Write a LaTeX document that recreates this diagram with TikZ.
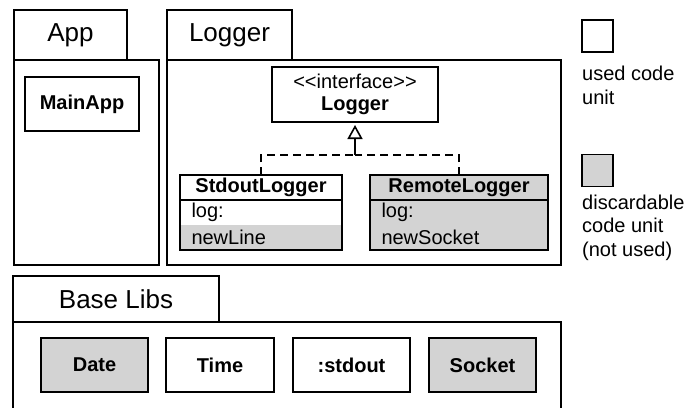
\documentclass[tikz,border=0pt]{standalone}
\usepackage{fontspec}
\setmainfont{Liberation Sans}
\usetikzlibrary{arrows.meta}
\definecolor{unused}{RGB}{211,211,211}
\begin{document}
\begin{tikzpicture}[x=1pt,y=-1pt,
  frame/.style={draw=black, line width=1.6pt},
  tablabel/.style={font=\fontsize{26}{30}\selectfont, inner sep=0pt},
  unitbox/.style={frame, fill=white, outer sep=0pt, inner sep=0pt,
    font=\bfseries\fontsize{20}{24}\selectfont},
  unusedbox/.style={unitbox, fill=unused},
  rowbox/.style={outer sep=0pt, inner sep=0pt, inner xsep=11.5pt,
    minimum height=25pt, text width=#1-23pt, align=left,
    font=\fontsize{20}{24}\selectfont},
  legendtext/.style={inner sep=0pt, align=left, anchor=north west,
    font=\fontsize{20}{24}\selectfont},
  realize/.style={line width=1.6pt, dash pattern=on 8pt off 5pt}
]
\useasboundingbox (0,0) rectangle (687,407);

% ---------- App package ----------
\draw[frame] (14,60) rectangle (127,10);
\draw[frame] (14,60) rectangle (159,265);
\node[tablabel] (apptab) at (70.5,35) {App};
\node[unitbox, minimum width=114pt, minimum height=54pt] (mainapp) at (82,104) {MainApp};

% ---------- Logger package ----------
\draw[frame] (167,60) rectangle (292,10);
\draw[frame] (167,60) rectangle (561,265);
\node[tablabel] (loggertab) at (229.5,35) {Logger};
\node[unitbox, minimum width=166pt, minimum height=55pt, align=center] (iface) at (355,94.5)
  {{\mdseries <\kern0pt<interface>\kern0pt>}\\[-2pt]Logger};

% StdoutLogger
\node[unitbox, minimum width=162pt, minimum height=25pt] (stdout) at (261,187.5) {StdoutLogger};
\node[rowbox=162pt, fill=white, anchor=north] (stdoutlog) at (stdout.south) {log:};
\node[rowbox=162pt, fill=unused, anchor=north] (stdoutnew) at (stdoutlog.south) {newLine};
\draw[frame] (stdout.north west) rectangle (stdoutnew.south east);
\draw[frame] (stdout.south west) -- (stdout.south east);

% RemoteLogger
\node[unusedbox, minimum width=178pt, minimum height=25pt] (remote) at (459,187.5) {RemoteLogger};
\node[rowbox=178pt, fill=unused, anchor=north] (remotelog) at (remote.south) {log:};
\node[rowbox=178pt, fill=unused, anchor=north] (remotenew) at (remotelog.south) {newSocket};
\draw[frame] (remote.north west) rectangle (remotenew.south east);
\draw[frame] (remote.south west) -- (remote.south east);

% realization arrows
\coordinate (join) at (355,155);
\draw[realize] (stdout.north) |- (join);
\draw[realize] (remote.north) |- (join);
\draw[line width=1.6pt, -{Triangle[open, width=15pt, length=14pt]}, shorten >=3pt]
  (join) -- (iface.south);

% ---------- Base Libs package ----------
\draw[frame] (13,322) rectangle (219,276);
\draw[frame] (13,410) -- (13,322) -- (561,322) -- (561,410);
\node[tablabel] (basetab) at (116,299) {Base Libs};
\node[unusedbox, minimum width=107pt, minimum height=54pt] (date) at (94.5,365) {Date};
\node[unitbox, minimum width=108pt, minimum height=54pt] (time) at (220,365) {Time};
\node[unitbox, minimum width=117pt, minimum height=54pt] (stdoutobj) at (351.5,365) {:stdout};
\node[unusedbox, minimum width=107pt, minimum height=54pt] (socket) at (482.5,365) {Socket};

% ---------- Legend ----------
\node[unitbox, minimum width=31pt, minimum height=32pt] (legused) at (597.5,36) {};
\node[legendtext] (legusedtext) at (582,65.4) {used code\\unit};
\node[unusedbox, minimum width=31pt, minimum height=32pt] (legunused) at (597.5,170.5) {};
\node[legendtext] (legunusedtext) at (582,194.4) {discardable\\[-0.5pt]code unit\\[-0.5pt](not used)};
\end{tikzpicture}
\end{document}
